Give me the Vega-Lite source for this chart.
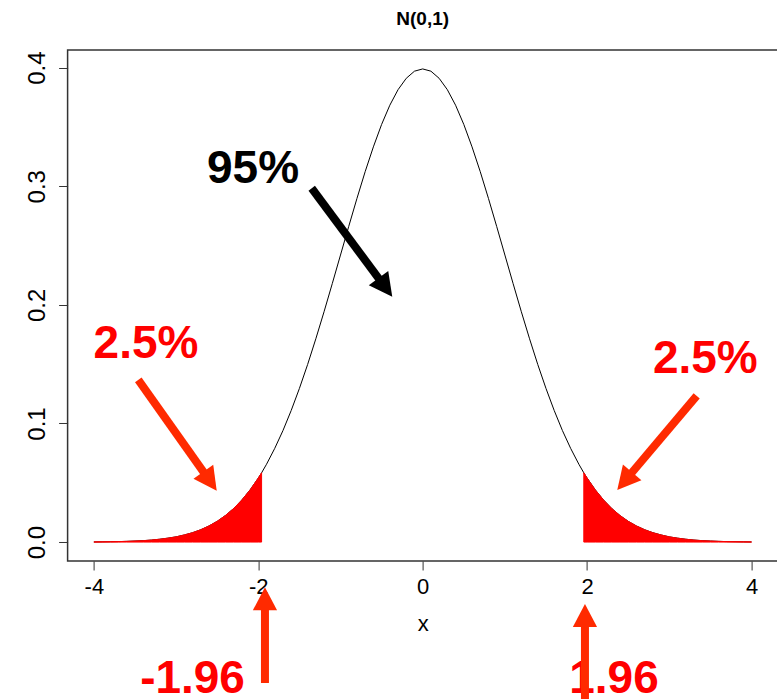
{
  "$schema": "https://vega.github.io/schema/vega-lite/v6.json",
  "width": 710.2,
  "height": 511,
  "autosize": "none",
  "padding": {"left": 67.6, "top": 50, "right": 0, "bottom": 138},
  "background": "white",
  "title": {"text": "N(0,1)", "fontSize": 19, "fontWeight": "bold", "font": "Liberation Sans", "color": "black", "anchor": "middle", "baseline": "alphabetic", "frame": "group", "offset": 23, "dy": 17},
  "config": {
    "font": "Liberation Sans",
    "view": {"stroke": "#333333", "strokeWidth": 1.5},
    "axis": {"grid": false, "domain": false, "tickColor": "#333333", "tickWidth": 1, "labelColor": "black", "titleColor": "black"}
  },
  "datasets": {
    "pdf": [
      {"x": -4.0, "y": 0.0001}, {"x": -3.9, "y": 0.0002}, {"x": -3.8, "y": 0.0003}, {"x": -3.7, "y": 0.0004},
      {"x": -3.6, "y": 0.0006}, {"x": -3.5, "y": 0.0009}, {"x": -3.4, "y": 0.0012}, {"x": -3.3, "y": 0.0017},
      {"x": -3.2, "y": 0.0024}, {"x": -3.1, "y": 0.0033}, {"x": -3.0, "y": 0.0044}, {"x": -2.9, "y": 0.0060},
      {"x": -2.8, "y": 0.0079}, {"x": -2.7, "y": 0.0104}, {"x": -2.6, "y": 0.0136}, {"x": -2.5, "y": 0.0175},
      {"x": -2.4, "y": 0.0224}, {"x": -2.3, "y": 0.0283}, {"x": -2.2, "y": 0.0355}, {"x": -2.1, "y": 0.0440},
      {"x": -2.0, "y": 0.0540}, {"x": -1.96, "y": 0.0584}, {"x": -1.9, "y": 0.0656}, {"x": -1.8, "y": 0.0790},
      {"x": -1.7, "y": 0.0940}, {"x": -1.6, "y": 0.1109}, {"x": -1.5, "y": 0.1295}, {"x": -1.4, "y": 0.1497},
      {"x": -1.3, "y": 0.1714}, {"x": -1.2, "y": 0.1942}, {"x": -1.1, "y": 0.2179}, {"x": -1.0, "y": 0.2420},
      {"x": -0.9, "y": 0.2661}, {"x": -0.8, "y": 0.2897}, {"x": -0.7, "y": 0.3123}, {"x": -0.6, "y": 0.3332},
      {"x": -0.5, "y": 0.3521}, {"x": -0.4, "y": 0.3683}, {"x": -0.3, "y": 0.3814}, {"x": -0.2, "y": 0.3910},
      {"x": -0.1, "y": 0.3970}, {"x": 0.0, "y": 0.3989}, {"x": 0.1, "y": 0.3970}, {"x": 0.2, "y": 0.3910},
      {"x": 0.3, "y": 0.3814}, {"x": 0.4, "y": 0.3683}, {"x": 0.5, "y": 0.3521}, {"x": 0.6, "y": 0.3332},
      {"x": 0.7, "y": 0.3123}, {"x": 0.8, "y": 0.2897}, {"x": 0.9, "y": 0.2661}, {"x": 1.0, "y": 0.2420},
      {"x": 1.1, "y": 0.2179}, {"x": 1.2, "y": 0.1942}, {"x": 1.3, "y": 0.1714}, {"x": 1.4, "y": 0.1497},
      {"x": 1.5, "y": 0.1295}, {"x": 1.6, "y": 0.1109}, {"x": 1.7, "y": 0.0940}, {"x": 1.8, "y": 0.0790},
      {"x": 1.9, "y": 0.0656}, {"x": 1.96, "y": 0.0584}, {"x": 2.0, "y": 0.0540}, {"x": 2.1, "y": 0.0440},
      {"x": 2.2, "y": 0.0355}, {"x": 2.3, "y": 0.0283}, {"x": 2.4, "y": 0.0224}, {"x": 2.5, "y": 0.0175},
      {"x": 2.6, "y": 0.0136}, {"x": 2.7, "y": 0.0104}, {"x": 2.8, "y": 0.0079}, {"x": 2.9, "y": 0.0060},
      {"x": 3.0, "y": 0.0044}, {"x": 3.1, "y": 0.0033}, {"x": 3.2, "y": 0.0024}, {"x": 3.3, "y": 0.0017},
      {"x": 3.4, "y": 0.0012}, {"x": 3.5, "y": 0.0009}, {"x": 3.6, "y": 0.0006}, {"x": 3.7, "y": 0.0004},
      {"x": 3.8, "y": 0.0003}, {"x": 3.9, "y": 0.0002}, {"x": 4.0, "y": 0.0001}
    ],
    "tails": [
      {"side": "L", "x": -4.0, "y": 0.0001}, {"side": "L", "x": -3.9, "y": 0.0002}, {"side": "L", "x": -3.8, "y": 0.0003},
      {"side": "L", "x": -3.7, "y": 0.0004}, {"side": "L", "x": -3.6, "y": 0.0006}, {"side": "L", "x": -3.5, "y": 0.0009},
      {"side": "L", "x": -3.4, "y": 0.0012}, {"side": "L", "x": -3.3, "y": 0.0017}, {"side": "L", "x": -3.2, "y": 0.0024},
      {"side": "L", "x": -3.1, "y": 0.0033}, {"side": "L", "x": -3.0, "y": 0.0044}, {"side": "L", "x": -2.9, "y": 0.0060},
      {"side": "L", "x": -2.8, "y": 0.0079}, {"side": "L", "x": -2.7, "y": 0.0104}, {"side": "L", "x": -2.6, "y": 0.0136},
      {"side": "L", "x": -2.5, "y": 0.0175}, {"side": "L", "x": -2.4, "y": 0.0224}, {"side": "L", "x": -2.3, "y": 0.0283},
      {"side": "L", "x": -2.2, "y": 0.0355}, {"side": "L", "x": -2.1, "y": 0.0440}, {"side": "L", "x": -2.0, "y": 0.0540},
      {"side": "L", "x": -1.96, "y": 0.0584},
      {"side": "R", "x": 1.96, "y": 0.0584}, {"side": "R", "x": 2.0, "y": 0.0540}, {"side": "R", "x": 2.1, "y": 0.0440},
      {"side": "R", "x": 2.2, "y": 0.0355}, {"side": "R", "x": 2.3, "y": 0.0283}, {"side": "R", "x": 2.4, "y": 0.0224},
      {"side": "R", "x": 2.5, "y": 0.0175}, {"side": "R", "x": 2.6, "y": 0.0136}, {"side": "R", "x": 2.7, "y": 0.0104},
      {"side": "R", "x": 2.8, "y": 0.0079}, {"side": "R", "x": 2.9, "y": 0.0060}, {"side": "R", "x": 3.0, "y": 0.0044},
      {"side": "R", "x": 3.1, "y": 0.0033}, {"side": "R", "x": 3.2, "y": 0.0024}, {"side": "R", "x": 3.3, "y": 0.0017},
      {"side": "R", "x": 3.4, "y": 0.0012}, {"side": "R", "x": 3.5, "y": 0.0009}, {"side": "R", "x": 3.6, "y": 0.0006},
      {"side": "R", "x": 3.7, "y": 0.0004}, {"side": "R", "x": 3.8, "y": 0.0003}, {"side": "R", "x": 3.9, "y": 0.0002},
      {"side": "R", "x": 4.0, "y": 0.0001}
    ],
    "labels": [
      {"label": "95%", "kind": "center", "x": -2.064, "y": 0.3028},
      {"label": "2.5%", "kind": "tail", "x": -3.366, "y": 0.1552},
      {"label": "2.5%", "kind": "tail", "x": 3.438, "y": 0.1426},
      {"label": "-1.96", "kind": "tail", "x": -2.8, "y": -0.1272},
      {"label": "1.96", "kind": "tail", "x": 2.327, "y": -0.1272}
    ],
    "shafts": [
      {"arrow": "center", "kind": "center", "x": -1.35, "y": 0.2983, "x2": -0.457, "y2": 0.215},
      {"arrow": "leftTail", "kind": "tail", "x": -3.46, "y": 0.1367, "x2": -2.59, "y2": 0.0516},
      {"arrow": "rightTail", "kind": "tail", "x": 3.333, "y": 0.1232, "x2": 2.461, "y2": 0.0517},
      {"arrow": "leftCut", "kind": "tail", "x": -1.919, "y": -0.1188, "x2": -1.919, "y2": -0.048},
      {"arrow": "rightCut", "kind": "tail", "x": 1.974, "y": -0.1373, "x2": 1.974, "y2": -0.0623}
    ],
    "tips": [
      {"arrow": "center", "x": -0.37, "y": 0.2069},
      {"arrow": "leftTail", "x": -2.506, "y": 0.0433},
      {"arrow": "rightTail", "x": 2.367, "y": 0.0439},
      {"arrow": "leftCut", "x": -1.919, "y": -0.0381},
      {"arrow": "rightCut", "x": 1.974, "y": -0.0522}
    ]
  },
  "encoding": {
    "x": {"field": "x", "type": "quantitative", "scale": {"domain": [-4.32, 4.32], "nice": false, "zero": false},
      "axis": {"values": [-4, -2, 0, 2, 4], "labelExpr": "'' + datum.value", "labelFontSize": 22, "tickSize": 9, "labelPadding": 7, "title": "x", "titleFontSize": 22, "titleFontWeight": "normal", "titlePadding": 16}},
    "y": {"field": "y", "type": "quantitative", "scale": {"domain": [-0.01596, 0.41486], "nice": false, "zero": false},
      "axis": {"values": [0, 0.1, 0.2, 0.3, 0.4], "format": ".1f", "labelAngle": -90, "labelAlign": "center", "labelBaseline": "bottom", "labelFontSize": 24, "tickSize": 9, "labelPadding": 9, "title": null}}
  },
  "layer": [
    {
      "data": {"name": "pdf"},
      "mark": {"type": "line", "color": "black", "strokeWidth": 1}
    },
    {
      "data": {"name": "tails"},
      "mark": {"type": "area", "color": "#ff0000", "stroke": "#ff0000", "strokeWidth": 1, "opacity": 1},
      "encoding": {"y2": {"datum": 0}, "detail": {"field": "side"}}
    },
    {
      "data": {"name": "labels"},
      "mark": {"type": "text", "font": "Liberation Sans", "fontWeight": "bold", "fontSize": 46, "align": "center", "baseline": "alphabetic"},
      "encoding": {
        "text": {"field": "label"},
        "color": {"field": "kind", "type": "nominal", "scale": {"domain": ["center", "tail"], "range": ["#000000", "#ff0000"]}, "legend": null}
      }
    },
    {
      "data": {"name": "shafts"},
      "mark": {"type": "rule", "strokeWidth": 8, "strokeCap": "butt"},
      "encoding": {
        "x2": {"field": "x2"},
        "y2": {"field": "y2"},
        "color": {"field": "kind", "type": "nominal", "scale": {"domain": ["center", "tail"], "range": ["#000000", "#ff2a00"]}, "legend": null}
      }
    },
    {
      "data": {"name": "tips"},
      "transform": [{"filter": "datum.arrow == 'center'"}],
      "mark": {"type": "point", "shape": "M0,0L-0.55,1.05L0.55,1.05Z", "size": 1936, "filled": true, "fill": "#000000", "strokeWidth": 0, "opacity": 1, "angle": 143.4}
    },
    {
      "data": {"name": "tips"},
      "transform": [{"filter": "datum.arrow == 'leftTail'"}],
      "mark": {"type": "point", "shape": "M0,0L-0.55,1.05L0.55,1.05Z", "size": 1936, "filled": true, "fill": "#ff2a00", "strokeWidth": 0, "opacity": 1, "angle": 144.7}
    },
    {
      "data": {"name": "tips"},
      "transform": [{"filter": "datum.arrow == 'rightTail'"}],
      "mark": {"type": "point", "shape": "M0,0L-0.55,1.05L0.55,1.05Z", "size": 1936, "filled": true, "fill": "#ff2a00", "strokeWidth": 0, "opacity": 1, "angle": 220.2}
    },
    {
      "data": {"name": "tips"},
      "transform": [{"filter": "datum.arrow == 'leftCut' || datum.arrow == 'rightCut'"}],
      "mark": {"type": "point", "shape": "M0,0L-0.55,1.05L0.55,1.05Z", "size": 1936, "filled": true, "fill": "#ff2a00", "strokeWidth": 0, "opacity": 1, "angle": 0}
    }
  ],
  "resolve": {"scale": {"color": "independent"}}
}
